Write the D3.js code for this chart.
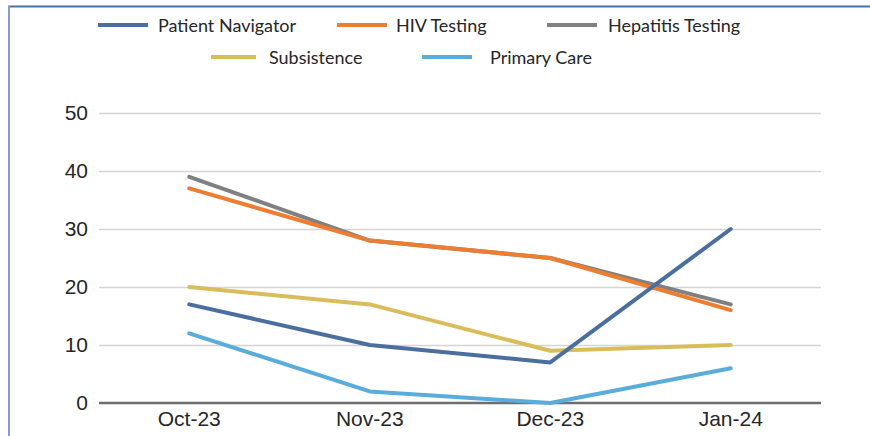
<!DOCTYPE html>
<html>
<head>
<meta charset="utf-8">
<script src="https://cdn.jsdelivr.net/npm/d3@7"></script>
<style>
  html, body { margin: 0; padding: 0; background: #fff; }
  svg { display: block; font-family: Lato, "Open Sans", sans-serif; }
</style>
</head>
<body>
<div id="chart-container"></div>
<script>
const months = ['Oct-23', 'Nov-23', 'Dec-23', 'Jan-24'];
const yTicks = [0, 10, 20, 30, 40, 50];

const patientNavigator = [17, 10, 7, 30];
const hivTesting = [37, 28, 25, 16];
const hepatitisTesting = [39, 28, 25, 17];
const subsistence = [20, 17, 9, 10];
const primaryCare = [12, 2, 0, 6];

const seriesNames = ['Patient Navigator', 'HIV Testing', 'Hepatitis Testing', 'Subsistence', 'Primary Care'];
const seriesColors = ['#4a6f9e', '#ed7d31', '#808080', '#d8bd5a', '#5aacdb'];
const seriesValues = [patientNavigator, hivTesting, hepatitisTesting, subsistence, primaryCare];

const width = 870, height = 436;
const margin = { top: 113, right: 49, bottom: 33, left: 99 };

const svg = d3.select('#chart-container')
    .append('svg')
    .attr('width', width)
    .attr('height', height);

// frame (top + left edges only)
svg.append('line')
    .attr('x1', 8).attr('x2', width).attr('y1', 6.5).attr('y2', 6.5)
    .attr('stroke', '#4f6fa8').attr('stroke-width', 2);
svg.append('line')
    .attr('x1', 9).attr('x2', 9).attr('y1', 6).attr('y2', height)
    .attr('stroke', '#8a9cc2').attr('stroke-width', 2);

const chartWidth = width - margin.left - margin.right;
const chartHeight = height - margin.top - margin.bottom;

const g = svg.append('g')
    .attr('transform', `translate(${margin.left},${margin.top})`);

const x = d3.scaleBand()
    .domain(months)
    .range([0, chartWidth])
    .padding(0);

const y = d3.scaleLinear()
    .domain([0, 50])
    .range([chartHeight, 0]);

// gridlines + y labels
const yAxis = g.append('g')
    .call(d3.axisLeft(y).tickValues(yTicks).tickSize(-chartWidth).tickPadding(11));
yAxis.select('.domain').remove();
yAxis.selectAll('.tick line')
    .attr('stroke', d => d === 0 ? 'none' : '#d4d4d4')
    .attr('stroke-width', 1.5);
yAxis.selectAll('.tick text')
    .style('font-size', '21px')
    .style('fill', '#262626');

// baseline
g.append('line')
    .attr('x1', 0).attr('x2', chartWidth)
    .attr('y1', y(0)).attr('y2', y(0))
    .attr('stroke', '#6e6e6e').attr('stroke-width', 2.5);

// x axis labels
const xAxis = g.append('g')
    .attr('transform', `translate(0,${chartHeight})`)
    .call(d3.axisBottom(x).tickSize(0).tickPadding(8));
xAxis.select('.domain').remove();
xAxis.selectAll('.tick text')
    .style('font-size', '21px')
    .style('fill', '#262626');

const line = d3.line()
    .x((d, i) => x(months[i]) + x.bandwidth() / 2)
    .y(d => y(d));

// draw in an order so gray sits under orange like the reference
const drawOrder = [2, 1, 3, 0, 4];
drawOrder.forEach(i => {
    g.append('path')
        .datum(seriesValues[i])
        .attr('fill', 'none')
        .attr('stroke', seriesColors[i])
        .attr('stroke-width', 4)
        .attr('stroke-linecap', 'round')
        .attr('stroke-linejoin', 'round')
        .attr('d', line);
});

// legend
const legendItems = [
    { x: 98, y: 25, lineW: 50 },
    { x: 337, y: 25, lineW: 50 },
    { x: 547, y: 25, lineW: 50 },
    { x: 211, y: 57, lineW: 45 },
    { x: 422, y: 57, lineW: 50 }
];
const textX = [158, 396, 608, 269, 490];

legendItems.forEach((it, i) => {
    const row = svg.append('g').attr('transform', `translate(${it.x},${it.y})`);
    row.append('line')
        .attr('x1', 0).attr('x2', it.lineW)
        .attr('y1', 0).attr('y2', 0)
        .attr('stroke', seriesColors[i])
        .attr('stroke-width', 4);
    row.append('text')
        .attr('x', textX[i] - it.x)
        .attr('y', 6.5)
        .style('font-size', '18px')
        .style('fill', '#262626')
        .text(seriesNames[i]);
});
</script>
</body>
</html>
